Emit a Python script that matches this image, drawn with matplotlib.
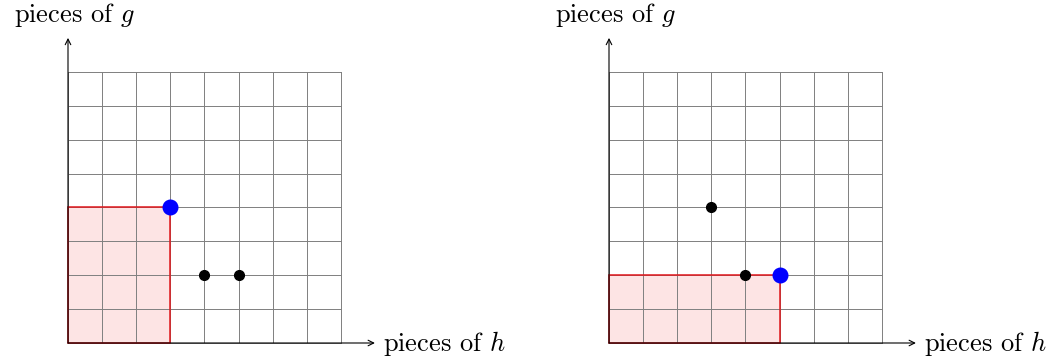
import matplotlib
matplotlib.use("Agg")
import matplotlib.pyplot as plt
from matplotlib.patches import Rectangle

plt.rcParams['font.family'] = ['cmr10', 'DejaVu Serif']
plt.rcParams['mathtext.fontset'] = 'cm'

# grid size (cells per side)
n_cells = 8

# left panel
left_rect_w, left_rect_h = 3, 4
left_blue = (3, 4)
left_black_x = [4, 5]
left_black_y = [2, 2]

# right panel
right_rect_w, right_rect_h = 5, 2
right_blue = (5, 2)
right_black_x = [3, 4]
right_black_y = [4, 2]

x_label = "pieces of $h$"
y_label = "pieces of $g$"

W, H = 1052, 360
unit_x = 34.1
unit_y = 33.9


def make_panel(fig, origin_px, rect_w, rect_h, blue, bx, by):
    ox, oy = origin_px  # origin pixel, measured from top-left
    ax = fig.add_axes([0, 0, 1, 1])
    ax.patch.set_alpha(0)
    ax.set_axis_off()
    oy_b = H - oy
    ax.set_xlim(-ox / unit_x, (W - ox) / unit_x)
    ax.set_ylim(-oy_b / unit_y, (H - oy_b) / unit_y)

    ax.add_patch(Rectangle((0, 0), rect_w, rect_h, facecolor='#fde4e4',
                           edgecolor='none', zorder=1))
    for i in range(n_cells + 1):
        ax.plot([i, i], [0, n_cells], color='#7f7f7f', lw=0.7, zorder=2)
        ax.plot([0, n_cells], [i, i], color='#7f7f7f', lw=0.7, zorder=2)
    ax.add_patch(Rectangle((0, 0), rect_w, rect_h, facecolor='none',
                           edgecolor='#e0161b', lw=1.1, zorder=3))

    # axes arrows
    ax.annotate('', xy=(9, 0), xytext=(0, 0),
                arrowprops=dict(arrowstyle='->', lw=0.8, color='black',
                                shrinkA=0, shrinkB=0, mutation_scale=10),
                zorder=4)
    ax.annotate('', xy=(0, 9), xytext=(0, 0),
                arrowprops=dict(arrowstyle='->', lw=0.8, color='black',
                                shrinkA=0, shrinkB=0, mutation_scale=10),
                zorder=4)

    ax.plot(bx, by, 'o', color='black', ms=7, zorder=5)
    ax.plot([blue[0]], [blue[1]], 'o', color='#0000ff', ms=10.5, zorder=6)

    ax.text(0.18, 9.47, y_label, fontsize=19, ha='center', va='baseline')
    ax.text(9.24, -0.02, x_label, fontsize=19, ha='left', va='center')
    return ax


fig = plt.figure(figsize=(W / 100, H / 100), dpi=100)
make_panel(fig, (68, 343), left_rect_w, left_rect_h, left_blue,
           left_black_x, left_black_y)
make_panel(fig, (609, 343), right_rect_w, right_rect_h, right_blue,
           right_black_x, right_black_y)

fig.savefig('out.png', dpi=100)
